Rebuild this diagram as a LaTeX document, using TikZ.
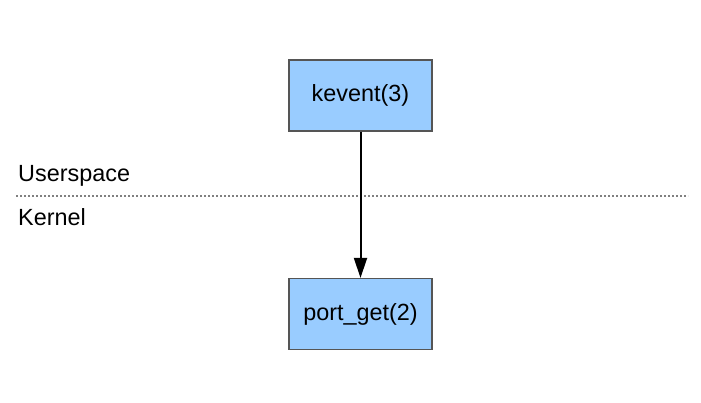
\documentclass[tikz,border=0pt]{standalone}
\usepackage{fontspec}
\setmainfont{Liberation Sans}
\usetikzlibrary{arrows.meta}
\definecolor{boxfill}{HTML}{99CCFF}
\definecolor{boxline}{HTML}{555555}
\definecolor{dotline}{HTML}{808080}
\tikzset{
  procbox/.style={draw=boxline, fill=boxfill, line width=1.2pt, minimum width=143pt, minimum height=71pt, inner sep=0pt, font=\fontsize{23.4}{27}\selectfont},
  lbl/.style={anchor=base west, inner sep=0pt, font=\fontsize{23.4}{27}\selectfont},
  flow/.style={line width=2pt, -{Triangle[length=20pt,width=13pt]}}
}
\begin{document}
\begin{tikzpicture}[x=1pt,y=-1pt]
\useasboundingbox (0,0) rectangle (701,402);
\node[procbox] (kev) at (360.5,95.5) {kevent(3)};
\node[procbox] (port) at (360.5,314) {port\_get(2)};
\coordinate (dl) at (16,196);
\coordinate (dr) at (688,196);
\draw[dotline, line width=1.5pt, dash pattern=on 2pt off 2pt] (dl) -- (dr);
\node[lbl] (us) at (18,181.5) {Userspace};
\node[lbl] (kn) at (18,225.5) {Kernel};
\draw[flow] (kev.south) -- (port.north);
\end{tikzpicture}
\end{document}
